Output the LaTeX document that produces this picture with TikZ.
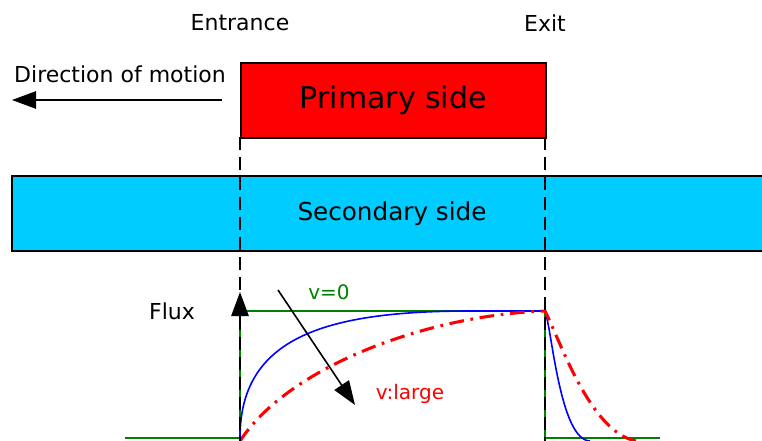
\documentclass[tikz,border=0pt]{standalone}
\usepackage{fontspec}
\setmainfont{DejaVu Sans}
\usetikzlibrary{arrows.meta}
\definecolor{prim}{RGB}{255,0,0}
\definecolor{sec}{RGB}{0,204,255}
\definecolor{fgreen}{RGB}{0,128,0}
\begin{document}
\begin{tikzpicture}[x=0.75pt,y=-0.75pt,
  lbl/.style={inner sep=0pt,font=\fontsize{16.5}{18}\selectfont},
  boxstyle/.style={draw=black,line width=1.3pt,inner sep=0pt},
  guide/.style={draw=black,line width=1.8pt,dash pattern=on 10pt off 5pt},
  headarrow/.style={-{Triangle[length=18pt,width=13pt]},line width=1.2pt}]
\useasboundingbox (0,0) rectangle (762,441);
% secondary side
\path[fill=sec,draw=black,line width=1.3pt] (12,176) -- (770,176) -- (770,251) -- (12,251) -- cycle;
\node[lbl,font=\fontsize{18.5}{20}\selectfont] (sec) at (392,214) {Secondary side};
% primary side
\node[boxstyle,fill=prim,minimum width=228.75pt,minimum height=56.25pt,anchor=north west] (prim) at (240,62) {};
\node[lbl,font=\fontsize{22.5}{24}\selectfont] (primt) at (prim.center) {Primary side};
% labels
\node[lbl] (ent) at (240,23) {Entrance};
\node[lbl] (exit) at (545,23) {Exit};
\node[lbl] (dir) at (120,74) {Direction of motion};
\node[lbl] (flux) at (172,311) {Flux};
\node[lbl,text=fgreen,font=\fontsize{15}{16}\selectfont] (v0) at (329,292) {v=0};
\node[lbl,text=prim,font=\fontsize{15}{16}\selectfont] (vl) at (410,394) {v:large};
% direction arrow
\coordinate (d1) at (222,100);
\coordinate (d2) at (12,100);
\draw[headarrow] (d1) -- (d2);
% green step
\draw[fgreen,line width=1.5pt] (125,438) -- (240,438) -- (240,311) -- (545,311) -- (545,438) -- (660,438);
% blue curve
\draw[blue,line width=1.2pt] (240,438) .. controls (240,340) and (320,311) .. (470,311) -- (545,311)
  .. controls (552,330) and (560,440) .. (590,441);
% red dash-dot curve
\draw[prim,line width=2.3pt,dash pattern=on 11pt off 5pt on 2pt off 5pt] (240,441) .. controls (290,365) and (430,315) .. (545,311)
  .. controls (560,340) and (590,432) .. (636,441);
% guide dashed lines
\coordinate (g1t) at (240,137);
\coordinate (g1b) at (240,441);
\coordinate (g2t) at (545,137);
\coordinate (g2b) at (545,441);
\draw[guide] (g1t) -- (g1b);
\draw[guide] (g2t) -- (g2b);
% flux axis arrow head
\coordinate (fa1) at (240,330);
\coordinate (fa2) at (240,292);
\draw[headarrow] (fa1) -- (fa2);
% diagonal arrow
\coordinate (a1) at (278,290);
\coordinate (a2) at (355,405);
\draw[headarrow] (a1) -- (a2);
\end{tikzpicture}
\end{document}
